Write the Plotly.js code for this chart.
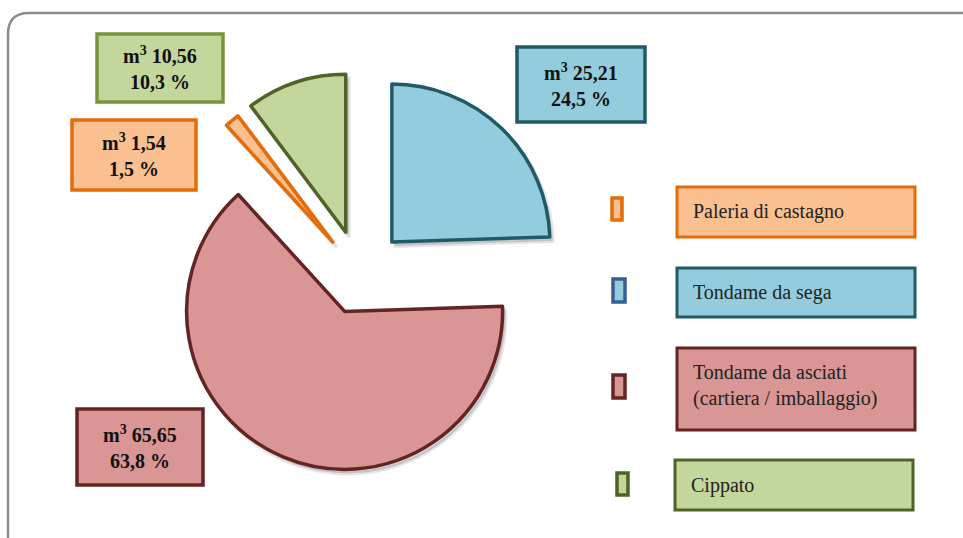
<!DOCTYPE html>
<html>
<head>
<meta charset="utf-8">
<script src="https://cdn.plot.ly/plotly-3.0.1.min.js"></script>
<style>html,body{margin:0;padding:0;background:#fff;}#chart{width:963px;height:538px;}</style>
</head>
<body>
<div id="chart"></div>
<script>
// ---- data ----
const categories = ['Tondame da sega', 'Tondame da asciati (cartiera / imballaggio)', 'Paleria di castagno', 'Cippato'];
const volumes = [25.21, 65.65, 1.54, 10.56];
const percentLabels = ['24,5 %', '63,8 %', '1,5 %', '10,3 %'];
const legendOrder = [2, 0, 1, 3];
const legendTexts = ['Paleria di castagno', 'Tondame da sega', 'Tondame da asciati<br>(cartiera / imballaggio)', 'Cippato'];

// ---- styles ----
const W = 963, H = 538;
const SERIF = '"Liberation Serif", "DejaVu Serif", "Times New Roman", serif';
const fills = ['#93CDDD', '#D99694', '#FAC090', '#C3D69B'];
const sliceLines = ['#215968', '#632523', '#E46C0A', '#4F6228'];
const labelBorders = ['#215968', '#632523', '#E46C0A', '#77933C'];
const legendBoxBorders = ['#215968', '#632523', '#E46C0A', '#4F6228'];
const markerBorders = ['#376092', '#632523', '#E46C0A', '#4F6228'];
const pulls = [0.29, 0.25, 0.27, 0.285];
// label boxes [x0,y0,x1,y1] in px
const labelBoxes = [[517, 47, 645, 122], [77, 409, 203, 485], [72, 120, 196, 190], [97, 34, 223, 102]];
// legend boxes & markers (in legend order)
const legendBoxes = [[677, 187, 915, 237], [677, 268, 915, 317], [677, 348, 915, 430], [675, 460, 913, 510]];
const legendMarkers = [[612, 198, 622, 220], [613, 279, 625, 302], [613, 375, 625, 398], [617, 473, 628, 495]];

const px = x => x / W;
const py = y => 1 - y / H;

// pie geometry
const r = 158, cx = 360, cy = 275;
const maxPull = Math.max(...pulls);
const half = r * (1 + maxPull);
const dom = (dx, dy) => ({
  x: [px(cx - half + dx), px(cx + half + dx)],
  y: [py(cy + half + dy), py(cy - half + dy)]
});

const shadow = {
  type: 'pie', values: volumes, labels: categories, sort: false,
  direction: 'clockwise', rotation: 0, pull: pulls, textinfo: 'none',
  hoverinfo: 'skip', showlegend: false,
  marker: { colors: volumes.map(() => 'rgba(0,0,0,0.15)'), line: { color: 'rgba(0,0,0,0.10)', width: 4 } },
  domain: dom(3, 4)
};
const pie = {
  type: 'pie', values: volumes, labels: categories, sort: false,
  direction: 'clockwise', rotation: 0, pull: pulls, textinfo: 'none',
  showlegend: false,
  marker: { colors: fills, line: { color: sliceLines, width: 3.5 } },
  domain: dom(0, 0)
};

const shapes = [];
const annotations = [];

// outer frame
shapes.push({
  type: 'path', xref: 'paper', yref: 'paper', layer: 'below',
  path: `M ${px(8)},${py(560)} L ${px(8)},${py(34)} Q ${px(8)},${py(13)} ${px(29)},${py(13)} L ${px(1000)},${py(13)}`,
  line: { color: '#8C8C8C', width: 2.5 }
});

const fmt = v => v.toFixed(2).replace('.', ',');

// data label boxes
volumes.forEach((v, i) => {
  const b = labelBoxes[i];
  shapes.push({ type: 'rect', xref: 'paper', yref: 'paper', x0: px(b[0]), x1: px(b[2]), y0: py(b[3]), y1: py(b[1]),
    fillcolor: fills[i], line: { color: labelBorders[i], width: 3.5 } });
  const mx = (b[0] + b[2]) / 2, my = (b[1] + b[3]) / 2;
  annotations.push({ xref: 'paper', yref: 'paper', x: px(mx), y: py(my - 13), xanchor: 'center', yanchor: 'middle',
    text: '<b>m<sup>3</sup> ' + fmt(v) + '</b>', showarrow: false, font: { family: SERIF, size: 20, color: '#111' } });
  annotations.push({ xref: 'paper', yref: 'paper', x: px(mx), y: py(my + 14), xanchor: 'center', yanchor: 'middle',
    text: '<b>' + percentLabels[i] + '</b>', showarrow: false, font: { family: SERIF, size: 20, color: '#111' } });
});

// legend
legendOrder.forEach((idx, k) => {
  const b = legendBoxes[k], m = legendMarkers[k];
  shapes.push({ type: 'rect', xref: 'paper', yref: 'paper', x0: px(b[0]), x1: px(b[2]), y0: py(b[3]), y1: py(b[1]),
    fillcolor: fills[idx], line: { color: legendBoxBorders[idx], width: 3 } });
  shapes.push({ type: 'rect', xref: 'paper', yref: 'paper', x0: px(m[0]), x1: px(m[2]), y0: py(m[3]), y1: py(m[1]),
    fillcolor: fills[idx], line: { color: markerBorders[idx], width: 3.5 } });
  annotations.push({ xref: 'paper', yref: 'paper', x: px(b[0] + 14), y: py((b[1] + b[3]) / 2 - (k === 2 ? 4 : 0)),
    xanchor: 'left', yanchor: 'middle', align: 'left', text: legendTexts[k], showarrow: false,
    font: { family: SERIF, size: 20, color: '#222' } });
});

const layout = {
  width: W, height: H, autosize: false,
  margin: { l: 0, r: 0, t: 0, b: 0 },
  paper_bgcolor: '#ffffff', plot_bgcolor: '#ffffff',
  showlegend: false,
  shapes: shapes, annotations: annotations
};

Plotly.newPlot('chart', [shadow, pie], layout, { displayModeBar: false, staticPlot: true });
</script>
</body>
</html>
